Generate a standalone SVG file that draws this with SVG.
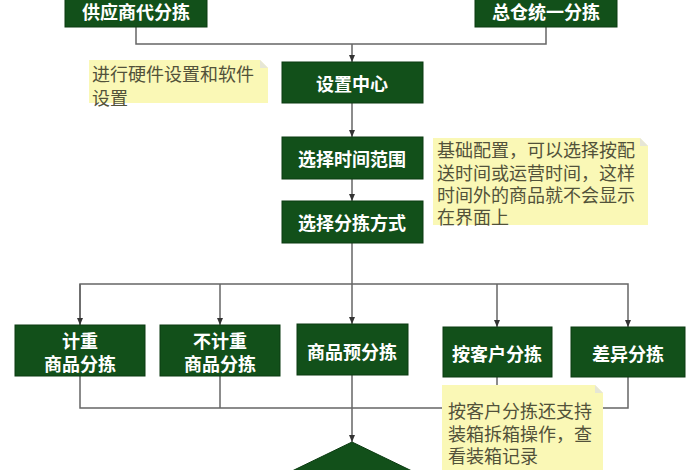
<svg xmlns="http://www.w3.org/2000/svg" width="700" height="470" viewBox="0 0 700 470">
<defs>
<marker id="arr" markerWidth="8" markerHeight="8" refX="7" refY="4" orient="auto" markerUnits="userSpaceOnUse">
<path d="M0,1 L7,4 L0,7 Z" fill="#333"/>
</marker>
<style>
.box{fill:#12501a;stroke:#0a3a10;stroke-width:1}
.bt{font-family:"Noto Sans CJK SC","Noto Sans",sans-serif;font-size:18px;font-weight:bold;fill:#ffffff;text-anchor:middle;dominant-baseline:central}
.ln{fill:none;stroke:#666;stroke-width:1.5}
.note{fill:#faf8b6}
.nt{font-family:"Noto Sans CJK SC","Noto Sans",sans-serif;font-size:18px;fill:#52523a;dominant-baseline:central}
.fold{fill:#e6e6d6}
</style>
</defs>
<rect width="700" height="470" fill="#ffffff"/>
<g id="connectors">
<polyline class="ln" points="136,27 136,44 546,44 546,27"/>
<line class="ln" x1="352" y1="44" x2="352" y2="62" marker-end="url(#arr)"/>
<line class="ln" x1="352" y1="103" x2="352" y2="137" marker-end="url(#arr)"/>
<line class="ln" x1="352" y1="179" x2="352" y2="201" marker-end="url(#arr)"/>
<line class="ln" x1="352" y1="243" x2="352" y2="324" marker-end="url(#arr)"/>
<polyline class="ln" points="80,325 80,284 628,284 628,327" marker-end="url(#arr)"/>
<line class="ln" x1="80" y1="284" x2="80" y2="325" marker-end="url(#arr)"/>
<line class="ln" x1="220" y1="284" x2="220" y2="325" marker-end="url(#arr)"/>
<line class="ln" x1="497" y1="284" x2="497" y2="327" marker-end="url(#arr)"/>
<polyline class="ln" points="80,376 80,408 628,408 628,377"/>
<line class="ln" x1="220" y1="376" x2="220" y2="408"/>
<line class="ln" x1="352" y1="375" x2="352" y2="442" marker-end="url(#arr)"/>
<line class="ln" x1="497" y1="377" x2="497" y2="408"/>
</g>
<g id="n-supplier"><rect class="box" x="65" y="-15" width="142" height="42"/><text class="bt" x="136" y="11">供应商代分拣</text></g>
<g id="n-central"><rect class="box" x="475" y="-15" width="142" height="42"/><text class="bt" x="546" y="11">总仓统一分拣</text></g>
<g id="n-setup"><rect class="box" x="282" y="62" width="141" height="41"/><text class="bt" x="352" y="83">设置中心</text></g>
<g id="n-time"><rect class="box" x="282" y="137" width="141" height="42"/><text class="bt" x="352" y="158">选择时间范围</text></g>
<g id="n-method"><rect class="box" x="282" y="201" width="141" height="42"/><text class="bt" x="352" y="222">选择分拣方式</text></g>
<g id="n-weigh"><rect class="box" x="15" y="325" width="130" height="51"/><text class="bt" x="80" y="340">计重</text><text class="bt" x="80" y="363">商品分拣</text></g>
<g id="n-noweigh"><rect class="box" x="160" y="325" width="120" height="51"/><text class="bt" x="220" y="340">不计重</text><text class="bt" x="220" y="363">商品分拣</text></g>
<g id="n-pre"><rect class="box" x="297" y="324" width="111" height="51"/><text class="bt" x="352" y="351">商品预分拣</text></g>
<g id="n-customer"><rect class="box" x="443" y="327" width="109" height="50"/><text class="bt" x="497" y="353">按客户分拣</text></g>
<g id="n-diff"><rect class="box" x="571" y="327" width="114" height="50"/><text class="bt" x="628" y="353">差异分拣</text></g>
<g id="n-decision"><polygon class="box" points="352,442 472,500 352,558 232,500"/></g>
<g id="note1"><path class="note" d="M89,60 H260 L268,68 V103 H89 Z"/><path class="fold" d="M260,60 L268,68 H260 Z"/><text class="nt" x="92" y="73">进行硬件设置和软件</text><text class="nt" x="92" y="97">设置</text></g>
<g id="note2"><path class="note" d="M433,138 H640 L648,146 V225 H433 Z"/><path class="fold" d="M640,138 L648,146 H640 Z"/><text class="nt" x="437" y="149">基础配置，可以选择按配</text><text class="nt" x="437" y="172">送时间或运营时间，这样</text><text class="nt" x="437" y="194">时间外的商品就不会显示</text><text class="nt" x="437" y="216">在界面上</text></g>
<g id="note3"><path class="note" d="M442,385 H595 L603,393 V470 H442 Z"/><path class="fold" d="M595,385 L603,393 H595 Z"/><text class="nt" x="448" y="410">按客户分拣还支持</text><text class="nt" x="448" y="433">装箱拆箱操作，查</text><text class="nt" x="448" y="455">看装箱记录</text></g>
</svg>
